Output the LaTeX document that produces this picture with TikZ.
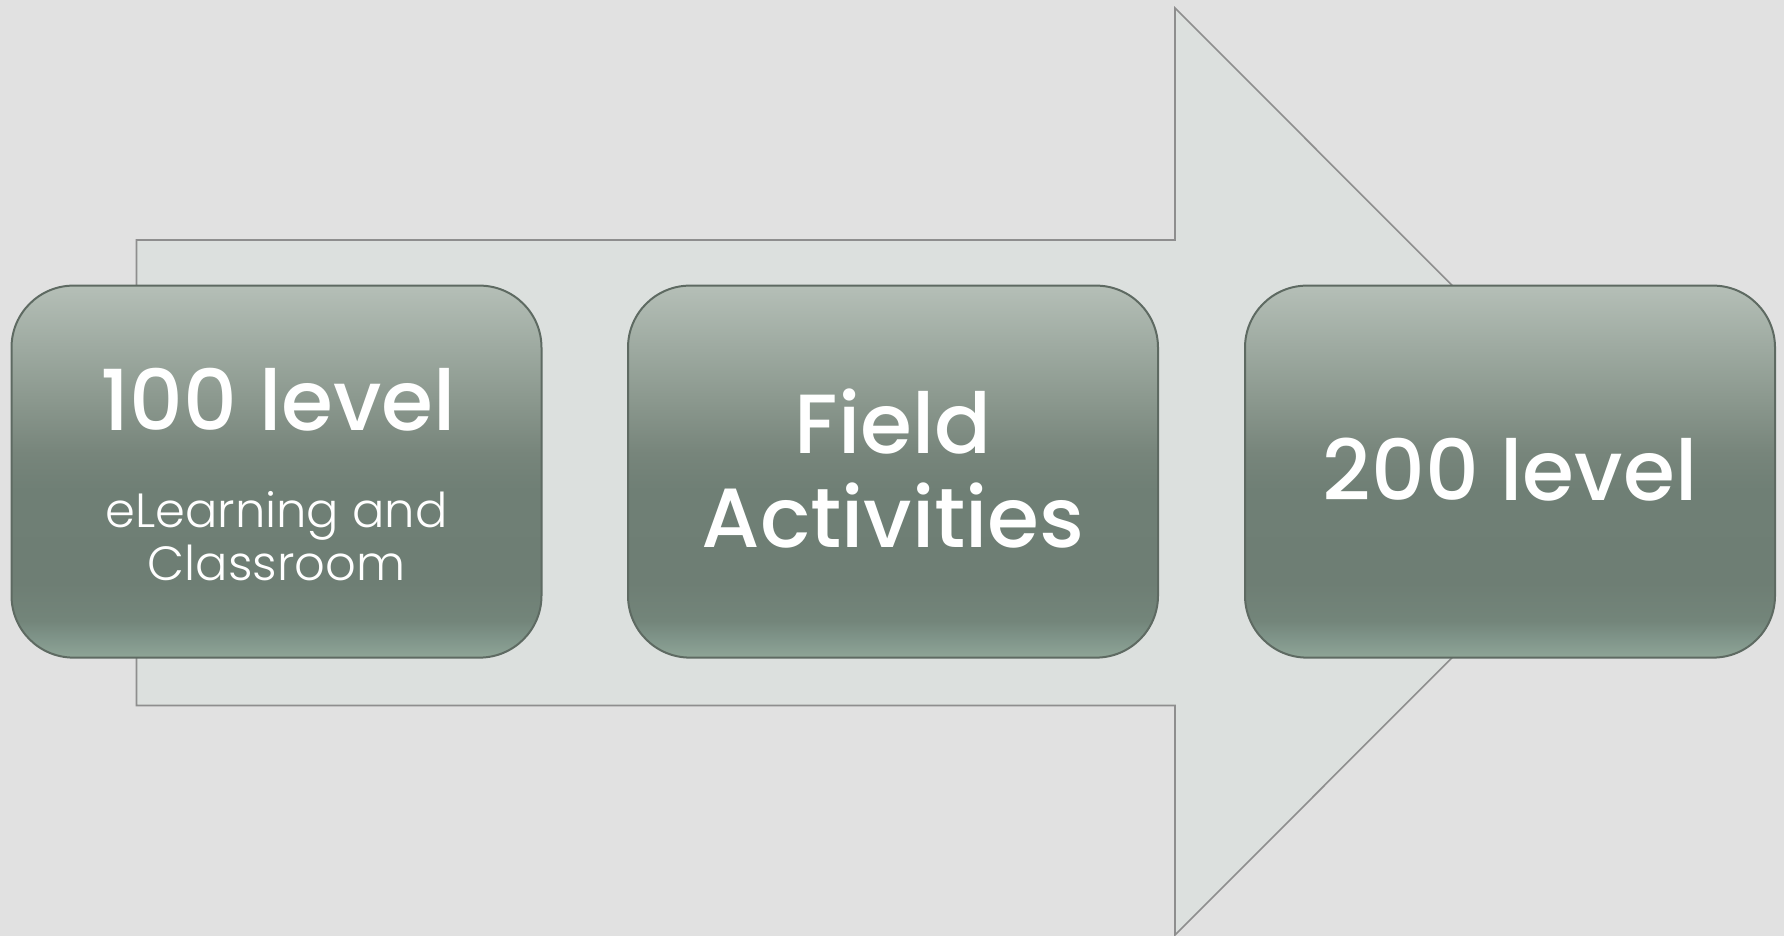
\documentclass[tikz,border=0pt]{standalone}
\usepackage{fontspec}
\setmainfont{Poppins}
\newfontfamily\headfont{Poppins Medium}
\newfontfamily\lightfont{Poppins Light}
\definecolor{bgc}{HTML}{E1E1E1}
\definecolor{arrowfill}{HTML}{DCE0DE}
\definecolor{arrowline}{HTML}{8E8E8E}
\definecolor{boxline}{HTML}{5E6A62}
\definecolor{c0}{HTML}{8FA597}
\definecolor{c1}{HTML}{80958A}
\definecolor{c2}{HTML}{73857A}
\definecolor{c3}{HTML}{6E7E74}
\definecolor{c4}{HTML}{6F7F75}
\definecolor{c5}{HTML}{77857B}
\definecolor{c6}{HTML}{8C998F}
\definecolor{c7}{HTML}{A0ACA3}
\definecolor{c8}{HTML}{B5BFB7}
\pgfdeclareverticalshading{boxshade}{100bp}{color(0bp)=(c0); color(25bp)=(c0); color(27.5bp)=(c1); color(30bp)=(c2); color(35bp)=(c3); color(47.5bp)=(c4); color(52.5bp)=(c5); color(60bp)=(c6); color(67.5bp)=(c7); color(75bp)=(c8); color(100bp)=(c8)}
\tikzset{
  stagebox/.style={draw=boxline, line width=2pt, shading=boxshade, rounded corners=62pt,
    minimum width=530pt, minimum height=372pt, inner sep=0pt},
  headtext/.style={text=white, anchor=base, inner sep=0pt, font=\headfont\fontsize{84}{84}\selectfont},
  subtext/.style={text=white, anchor=base, inner sep=0pt, font=\lightfont\fontsize{48}{48}\selectfont},
  bigarrow/.style={draw=arrowline, fill=arrowfill, line width=1.6pt}
}
\begin{document}
\begin{tikzpicture}[x=1pt,y=-1pt]
\useasboundingbox (0,0) rectangle (1784,936);
\fill[bgc] (0,0) rectangle (1784,936);
\draw[bigarrow] (136.5,240) -- (1175,240) -- (1175,8) -- (1638,471.5) -- (1175,935) -- (1175,705.5) -- (136.5,705.5) -- cycle;
\node[stagebox] (b1) at (276.5,471.6) {};
\node[stagebox] (b2) at (893,471.6) {};
\node[stagebox] (b3) at (1510,471.6) {};
\node[headtext] (t1) at (278,430) {100 level};
\node[subtext] (s1) at (276.5,527) {eLearning and};
\node[subtext] (s2) at (276.5,580) {Classroom};
\node[headtext] (t2a) at (893,453) {Field};
\node[headtext] (t2b) at (893,547) {Activities};
\node[headtext] (t3) at (1510,500.6) {200 level};
\end{tikzpicture}
\end{document}
